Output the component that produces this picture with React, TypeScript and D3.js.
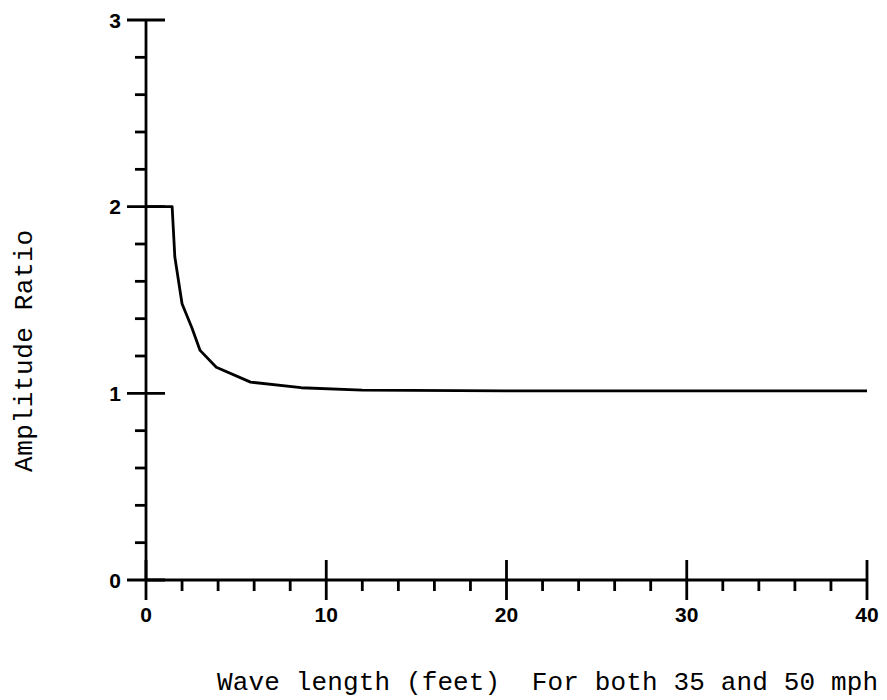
import React from "react";
import * as d3 from "d3";

const waveLength = [0, 1.45, 1.6, 2.0, 2.55, 3.0, 3.9, 5.8, 8.6, 12, 20, 30, 40];
const amplitudeRatio = [2, 2, 1.73, 1.48, 1.35, 1.23, 1.14, 1.06, 1.03, 1.017, 1.013, 1.013, 1.013];
const xMajorTicks = [0, 10, 20, 30, 40];
const xMinorTicks = [2, 4, 6, 8, 12, 14, 16, 18, 22, 24, 26, 28, 32, 34, 36, 38];
const yMajorTicks = [0, 1, 2, 3];
const yMinorTicks = [0.2, 0.4, 0.6, 0.8, 1.2, 1.4, 1.6, 1.8, 2.2, 2.4, 2.6, 2.8];
const yTitle = "Amplitude Ratio";
const xTitle = "Wave length (feet)  For both 35 and 50 mph";

export default function App() {
  const W = 887, H = 700;
  const x = d3.scaleLinear().domain([0, 40]).range([146, 867]);
  const y = d3.scaleLinear().domain([0, 3]).range([580, 20]);
  const pts = waveLength.map((v, i) => [v, amplitudeRatio[i]] as [number, number]);
  const line = d3.line<[number, number]>().x(d => x(d[0])).y(d => y(d[1]));
  const sw = 2.8;
  const mono = "'Liberation Mono', 'Courier New', monospace";
  const sans = "'Liberation Sans', Arial, sans-serif";
  return (
    <svg width={W} height={H} style={{ position: "absolute", left: 0, top: 0, background: "#fff" }}>
      <rect width={W} height={H} fill="#fff" />
      <line x1={x(0)} x2={x(0)} y1={y(3)} y2={y(0)} stroke="#000" strokeWidth={sw} />
      <line x1={x(0)} x2={x(40)} y1={y(0)} y2={y(0)} stroke="#000" strokeWidth={sw} />
      {yMajorTicks.map(t => (
        <line key={"ym" + t} x1={x(0) - 19} x2={x(0) + 19} y1={y(t)} y2={y(t)} stroke="#000" strokeWidth={sw} />
      ))}
      {yMinorTicks.map(t => (
        <line key={"yn" + t} x1={x(0) - 11} x2={x(0)} y1={y(t)} y2={y(t)} stroke="#000" strokeWidth={sw} />
      ))}
      {xMajorTicks.map(t => (
        <line key={"xm" + t} x1={x(t)} x2={x(t)} y1={y(0) - 20} y2={y(0) + 20} stroke="#000" strokeWidth={sw} />
      ))}
      {xMinorTicks.map(t => (
        <line key={"xn" + t} x1={x(t)} x2={x(t)} y1={y(0)} y2={y(0) + 11} stroke="#000" strokeWidth={sw} />
      ))}
      {yMajorTicks.map(t => (
        <text key={"yl" + t} x={x(0) - 25} y={y(t)} dy="0.36em" textAnchor="end" fontFamily={sans} fontWeight="bold" fontSize={21}>{t}</text>
      ))}
      {xMajorTicks.map(t => (
        <text key={"xl" + t} x={x(t)} y={622} textAnchor="middle" fontFamily={sans} fontWeight="bold" fontSize={21}>{t}</text>
      ))}
      <path d={line(pts) || ""} fill="none" stroke="#000" strokeWidth={sw} strokeLinejoin="round" />
      <text transform="translate(32,351) rotate(-90)" textAnchor="middle" fontFamily={mono} fontSize={26} textLength={242} lengthAdjust="spacing">{yTitle}</text>
      <text x={217} y={690} fontFamily={mono} fontSize={26} textLength={661} lengthAdjust="spacing" style={{ whiteSpace: "pre" }}>{xTitle}</text>
    </svg>
  );
}
